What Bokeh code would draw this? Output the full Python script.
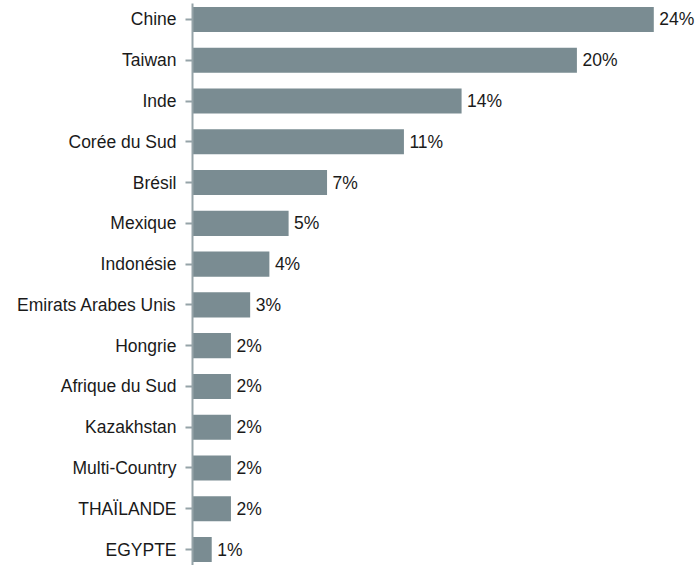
from bokeh.plotting import figure
from bokeh.models import Range1d, FixedTicker, ColumnDataSource
from bokeh.core.properties import value
from bokeh.embed import file_html
from bokeh.resources import INLINE

countries = ["Chine", "Taiwan", "Inde", "Corée du Sud", "Brésil", "Mexique",
             "Indonésie", "Emirats Arabes Unis", "Hongrie", "Afrique du Sud",
             "Kazakhstan", "Multi-Country", "THAÏLANDE", "EGYPTE"]
shares = [24, 20, 14, 11, 7, 5, 4, 3, 2, 2, 2, 2, 2, 1]
labels = [f"{v}%" for v in shares]

pos = list(range(len(countries)))
src = ColumnDataSource(dict(y=pos, v=shares, lab=labels))

p = figure(width=700, height=565, output_backend="svg", toolbar_location=None,
           x_range=Range1d(0, 26.43), y_range=Range1d(13.392, -0.392),
           x_axis_location=None, min_border_left=192, min_border_right=0,
           min_border_top=3, min_border_bottom=0)
p.outline_line_color = None
p.grid.visible = False

p.hbar(y="y", left=0, right="v", height=0.615, source=src,
       fill_color="#7a8c92", line_color=None)
p.text(x="v", y="y", text="lab", source=src, x_offset=5.5,
       text_baseline="middle", text_align="left",
       text_font=value("Liberation Sans"), text_font_size="17.5px",
       text_color="#1a1a1a")

ax = p.yaxis[0]
ax.ticker = FixedTicker(ticks=pos)
ax.major_label_overrides = {i: c for i, c in zip(pos, countries)}
ax.minor_tick_line_color = None
ax.major_tick_in = 0
ax.major_tick_out = 7
ax.major_tick_line_color = "#95a3a8"
ax.major_tick_line_width = 2
ax.axis_line_color = "#95a3a8"
ax.axis_line_width = 2
ax.major_label_standoff = 9
ax.major_label_text_font = "Liberation Sans"
ax.major_label_text_font_size = "17.5px"
ax.major_label_text_color = "#1a1a1a"

open("out.html", "w").write(file_html(p, INLINE))
